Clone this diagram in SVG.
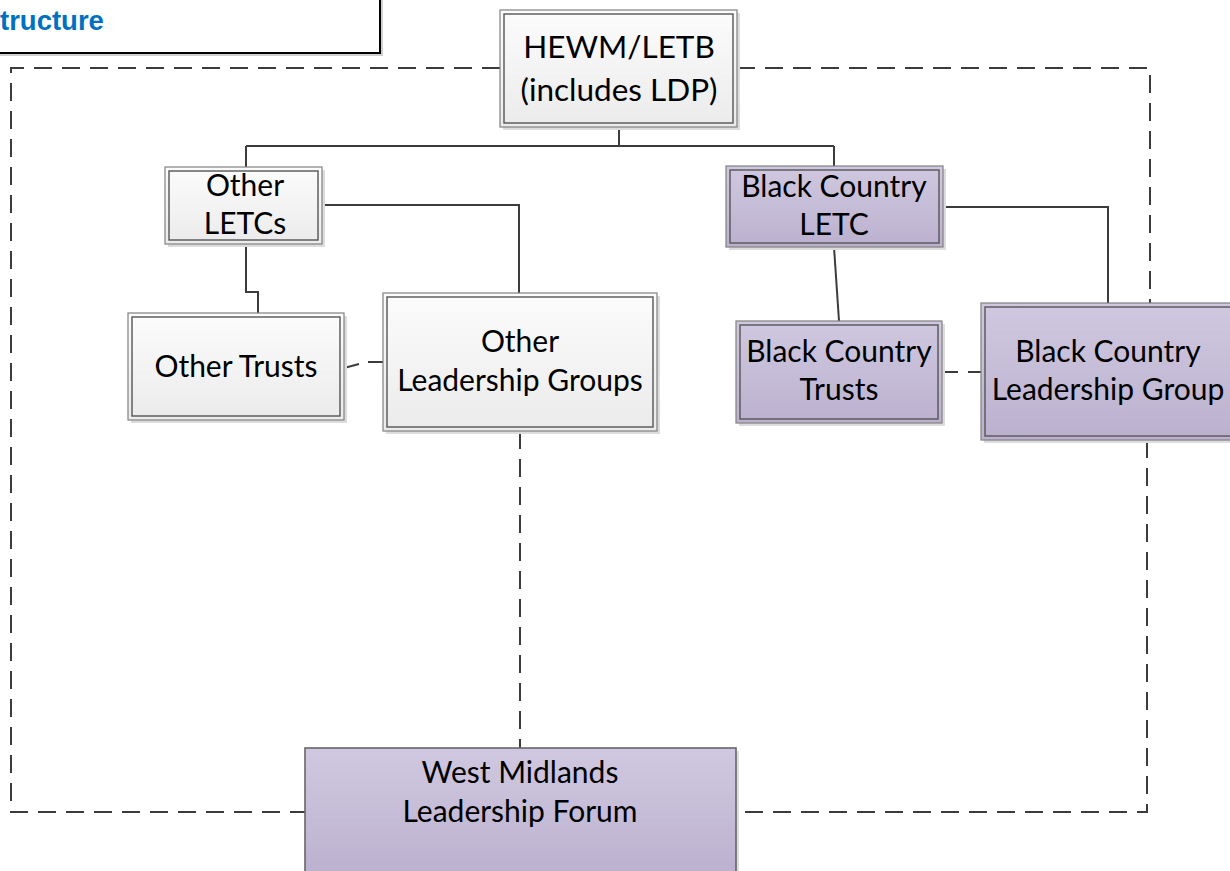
<svg xmlns="http://www.w3.org/2000/svg" width="1230" height="871" viewBox="0 0 1230 871">
<style>
.lbl{font-family:Lato,"Open Sans",sans-serif;font-size:30px;fill:#000;text-anchor:middle}
.big{font-size:31.5px}
.sh{fill:#dcdcdc}
.ob{stroke:#808080;stroke-width:1.2}
.ib{fill:none;stroke:#555;stroke-width:1.4}
.w{fill:url(#gw)}
.p{fill:url(#gp)}
.con{fill:none;stroke:#3c3c3c;stroke-width:2}
.dash{fill:none;stroke:#3c3c3c;stroke-width:2;stroke-dasharray:18 10}
.title{font-family:"Liberation Sans",Arial,sans-serif;font-weight:bold;font-size:27.5px;fill:#0070C0}
</style>
<defs>
<linearGradient id="gw" x1="0" y1="0" x2="0" y2="1"><stop offset="0" stop-color="#fcfcfc"/><stop offset="1" stop-color="#ebebeb"/></linearGradient>
<linearGradient id="gp" x1="0" y1="0" x2="0" y2="1"><stop offset="0" stop-color="#d0c8e0"/><stop offset="1" stop-color="#bbb1cf"/></linearGradient>
</defs>
<rect width="1230" height="871" fill="#fff"/>

<g id="title">
<rect x="-3" y="-3" width="386" height="59" fill="#cfcfcf"/>
<rect x="-6" y="-6" width="386" height="59" fill="#fff" stroke="#000" stroke-width="2"/>
<text class="title" x="0" y="30">tructure</text>
</g>

<g id="connectors">
<path class="con" d="M619,127 V146 M246,146 H834 M246,146 V167 M834,146 V166"/>
<path class="con" d="M322,205 H519 V293"/>
<path class="con" d="M246,244 V292 H258 V313"/>
<path class="con" d="M834,247 L839,321"/>
<path class="con" d="M942,207 H1108 V307 H1088"/>
<path class="con" d="M344,368 L359,364 M368,362 H383"/>
<path class="dash" d="M942,372 H981" style="stroke-dasharray:16 10"/>
<path class="dash" d="M520,431 V748"/>
<path class="dash" d="M500,68 H11 V812 H305"/>
<path class="dash" d="M737,68 H1150 V303"/>
<path class="dash" d="M1147,440 V812 H736"/>
</g>

<g id="hewm">
<rect class="sh" x="503" y="13" width="237" height="117"/>
<rect class="w ob" x="500" y="10" width="237" height="117"/>
<rect class="ib" x="504" y="14" width="229" height="109"/>
<text class="lbl big" x="619" y="58">HEWM/LETB</text>
<text class="lbl big" x="619" y="101">(includes LDP)</text>
</g>

<g id="other-letcs">
<rect class="sh" x="168" y="170" width="157" height="77"/>
<rect class="w ob" x="165" y="167" width="157" height="77"/>
<rect class="ib" x="169" y="171" width="149" height="69"/>
<text class="lbl" x="245" y="196">Other</text>
<text class="lbl" x="245" y="234">LETCs</text>
</g>

<g id="bc-letc">
<rect class="sh" x="729" y="169" width="217" height="81"/>
<rect class="p ob" x="726" y="166" width="217" height="81"/>
<rect class="ib" x="730" y="170" width="209" height="73"/>
<text class="lbl" x="834" y="197">Black Country</text>
<text class="lbl" x="834" y="235">LETC</text>
</g>

<g id="other-trusts">
<rect class="sh" x="131" y="316" width="216" height="107"/>
<rect class="w ob" x="128" y="313" width="216" height="107"/>
<rect class="ib" x="132" y="317" width="208" height="99"/>
<text class="lbl" x="236" y="377">Other Trusts</text>
</g>

<g id="other-lg">
<rect class="sh" x="386" y="296" width="274" height="138"/>
<rect class="w ob" x="383" y="293" width="274" height="138"/>
<rect class="ib" x="387" y="297" width="266" height="130"/>
<text class="lbl" x="520" y="352">Other</text>
<text class="lbl" x="520" y="391">Leadership Groups</text>
</g>

<g id="bc-trusts">
<rect class="sh" x="739" y="324" width="206" height="102"/>
<rect class="p ob" x="736" y="321" width="206" height="102"/>
<rect class="ib" x="740" y="325" width="198" height="94"/>
<text class="lbl" x="839" y="362">Black Country</text>
<text class="lbl" x="839" y="400">Trusts</text>
</g>

<g id="bc-lg">
<rect class="sh" x="984" y="306" width="260" height="137"/>
<rect class="p ob" x="981" y="303" width="260" height="137"/>
<rect class="ib" x="985" y="307" width="252" height="129"/>
<text class="lbl" x="1108" y="362">Black Country</text>
<text class="lbl" x="1108" y="400">Leadership Group</text>
</g>

<g id="wmlf">
<rect class="sh" x="308" y="751" width="431" height="130"/>
<rect class="p" x="305" y="748" width="431" height="130" stroke="#666" stroke-width="1.6"/>
<text class="lbl" x="520" y="783">West Midlands</text>
<text class="lbl" x="520" y="822">Leadership Forum</text>
</g>
</svg>
